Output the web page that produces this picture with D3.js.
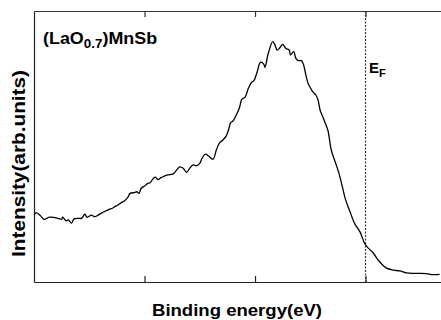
<!DOCTYPE html>
<html>
<head>
<meta charset="utf-8">
<script src="https://cdn.jsdelivr.net/npm/d3@7"></script>
<style>
  body { margin: 0; background: #fff; }
  svg { display: block; font-family: "Liberation Sans", Arial, sans-serif; }
</style>
</head>
<body>
<div id="container"></div>
<script>
// binding energy (eV), E_F = 0, higher binding energy to the left
const energy = [3.00, 2.98, 2.94, 2.91, 2.86, 2.80, 2.75, 2.74, 2.71, 2.69, 2.66, 2.64, 2.60, 2.57, 2.54, 2.52,
    2.48, 2.45, 2.42, 2.39, 2.35, 2.32, 2.29, 2.26, 2.24, 2.21, 2.18, 2.15, 2.13, 2.09, 2.07, 2.05, 2.03, 2.00,
    1.97, 1.95, 1.92, 1.90, 1.88, 1.85, 1.82, 1.79, 1.74, 1.71, 1.68, 1.65, 1.62, 1.59, 1.56, 1.53, 1.50, 1.48,
    1.45, 1.42, 1.38, 1.35, 1.32, 1.29, 1.26, 1.24, 1.22, 1.20, 1.17, 1.14, 1.12, 1.09, 1.06, 1.03, 1.01, 0.98,
    0.95, 0.92, 0.91, 0.88, 0.84, 0.82, 0.80, 0.78, 0.75, 0.72, 0.69, 0.68, 0.65, 0.63, 0.61, 0.58, 0.56, 0.54,
    0.52, 0.51, 0.48, 0.45, 0.43, 0.41, 0.39, 0.37, 0.34, 0.31, 0.27, 0.24, 0.21, 0.18, 0.14, 0.10, 0.05, 0.01,
    -0.02, -0.07, -0.11, -0.14, -0.19, -0.25, -0.31, -0.37, -0.43, -0.49, -0.55, -0.61, -0.67];
// photoemission intensity (arb. units)
const intensity = [24.7, 25.6, 24.4, 23.1, 23.9, 23.7, 23.2, 23.9, 22.6, 22.9, 21.7, 23.2, 23.5, 23.5, 25.0, 23.9,
    24.7, 24.1, 24.7, 25.4, 26.2, 26.8, 27.2, 28.0, 28.4, 29.3, 30.0, 31.3, 32.7, 33.0, 33.3, 32.7, 34.6, 35.4,
    36.4, 36.6, 38.2, 38.7, 37.8, 38.5, 39.1, 39.5, 39.9, 41.3, 42.5, 42.0, 40.5, 42.0, 43.2, 42.9, 43.8, 45.6,
    47.2, 46.5, 45.3, 48.7, 51.4, 52.4, 53.9, 56.1, 58.8, 59.4, 61.6, 64.4, 67.4, 68.2, 71.5, 73.7, 74.3, 77.6,
    81.1, 80.3, 79.2, 84.4, 88.7, 87.5, 85.6, 86.2, 87.7, 86.2, 85.6, 83.8, 85.0, 82.5, 81.7, 81.7, 80.1, 76.4,
    73.3, 72.5, 70.3, 69.0, 67.2, 63.3, 61.3, 59.2, 55.9, 48.7, 43.8, 40.1, 35.2, 30.3, 25.9, 21.7, 18.5, 14.4,
    12.7, 10.7, 8.3, 6.9, 5.1, 4.4, 4.1, 3.4, 3.2, 3.2, 3.1, 2.7, 2.8];
const xTicks = [0, 1, 2];
const fermiLevel = 0;

const data = energy.map((e, i) => ({ e: e, v: intensity[i] }));

const W = 441, H = 320;
const margin = { top: 11, right: 0, bottom: 38, left: 34 };
const width = W - margin.left - margin.right,
    height = H - margin.top - margin.bottom;

const svg = d3.select("#container")
    .append("svg")
    .attr("width", W)
    .attr("height", H);

const g = svg.append("g")
    .attr("transform", `translate(${margin.left}, ${margin.top})`);

// x runs from 3 eV on the left down to about -0.68 eV at the right edge
const x = d3.scaleLinear()
    .domain([3.0, -0.683])
    .range([0, width]);
const y = d3.scaleLinear()
    .domain([0, 100])
    .range([height, 0]);

// bottom and top axes, ticks pointing in, no labels
g.append("g")
    .attr("transform", `translate(0, ${height})`)
    .call(d3.axisBottom(x).tickValues(xTicks).tickSizeInner(-6).tickSizeOuter(0).tickFormat(""))
    .call(a => a.selectAll("line, path").attr("stroke", "#222").attr("stroke-width", 1.2));
g.append("g")
    .call(d3.axisTop(x).tickValues(xTicks).tickSizeInner(-6).tickSizeOuter(0).tickFormat(""))
    .call(a => a.selectAll("line, path").attr("stroke", "#333").attr("stroke-width", 1.2));
g.append("g")
    .call(d3.axisLeft(y).tickValues([]).tickSizeOuter(0))
    .call(a => a.selectAll("path").attr("stroke", "#222").attr("stroke-width", 1.2));

// Fermi level marker
g.append("line")
    .attr("x1", x(fermiLevel)).attr("x2", x(fermiLevel))
    .attr("y1", 0).attr("y2", height)
    .attr("stroke", "#333")
    .attr("stroke-width", 1.2)
    .attr("stroke-dasharray", "2,1.5");

// spectrum
g.append("path")
    .datum(data)
    .attr("fill", "none")
    .attr("stroke", "#000")
    .attr("stroke-width", 1.3)
    .attr("d", d3.line().x(d => x(d.e)).y(d => y(d.v)).curve(d3.curveCatmullRom));

// labels (the original lettering is a bit wider than Liberation Sans, so stretch it)
const title = svg.append("text")
    .attr("transform", "translate(43, 44) scale(1.12, 1)")
    .attr("font-size", 16).attr("font-weight", "bold");
title.append("tspan").text("(LaO");
title.append("tspan").attr("dy", 4).attr("font-size", 12).text("0.7");
title.append("tspan").attr("dy", -4).text(")MnSb");

const ef = svg.append("text")
    .attr("x", 369).attr("y", 73)
    .attr("font-size", 15).attr("font-weight", "bold");
ef.append("tspan").text("E");
ef.append("tspan").attr("dy", 4).attr("font-size", 11).text("F");

svg.append("text")
    .attr("x", 152).attr("y", 316)
    .attr("textLength", 170).attr("lengthAdjust", "spacingAndGlyphs")
    .attr("font-size", 17).attr("font-weight", "bold")
    .text("Binding energy(eV)");

svg.append("text")
    .attr("transform", "translate(25, 257) rotate(-90)")
    .attr("textLength", 187).attr("lengthAdjust", "spacingAndGlyphs")
    .attr("font-size", 18).attr("font-weight", "bold")
    .text("Intensity(arb.units)");
</script>
</body>
</html>
